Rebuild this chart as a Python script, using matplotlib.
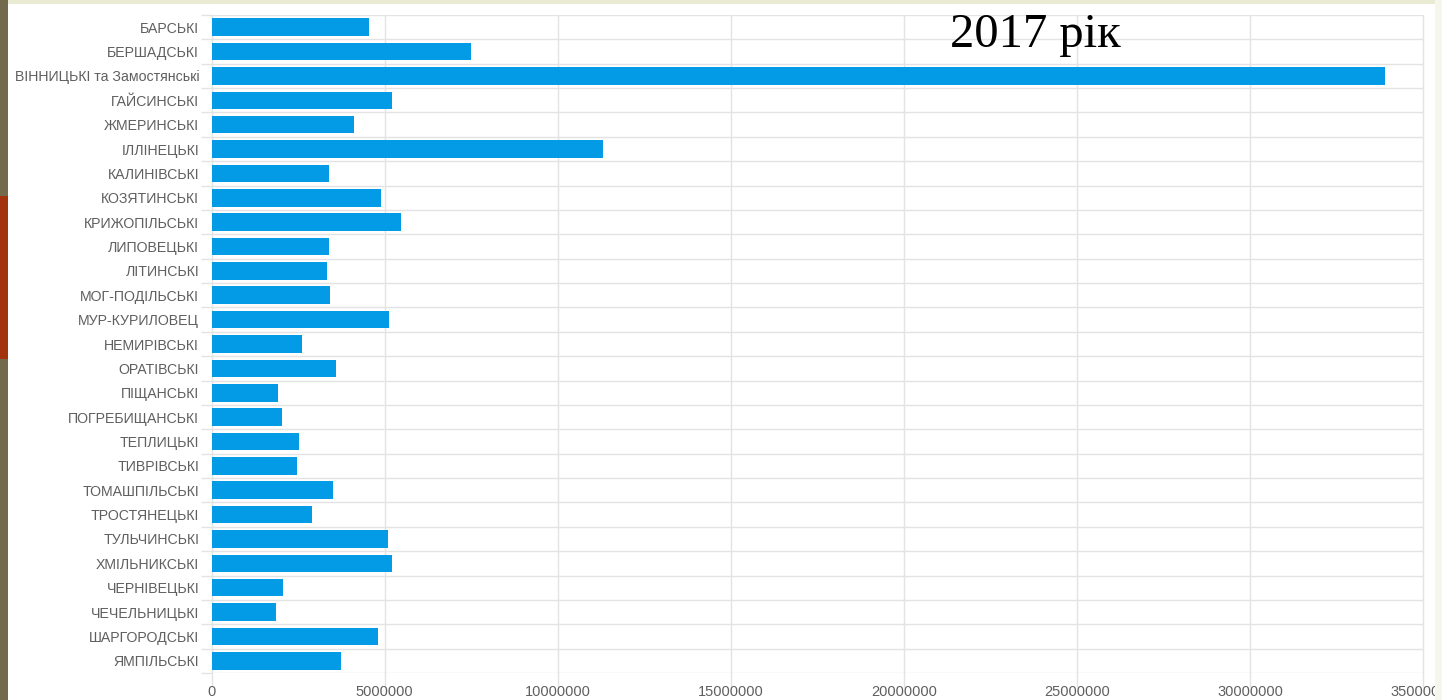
import matplotlib
matplotlib.use("Agg")
import matplotlib.pyplot as plt
from matplotlib.patches import Rectangle
from matplotlib.ticker import FixedLocator

# districts of Vinnytsia oblast, top to bottom
districts = [
    "БАРСЬКІ", "БЕРШАДСЬКІ", "ВІННИЦЬКІ та Замостянські", "ГАЙСИНСЬКІ",
    "ЖМЕРИНСЬКІ", "ІЛЛІНЕЦЬКІ", "КАЛИНІВСЬКІ", "КОЗЯТИНСЬКІ",
    "КРИЖОПІЛЬСЬКІ", "ЛИПОВЕЦЬКІ", "ЛІТИНСЬКІ", "МОГ-ПОДІЛЬСЬКІ",
    "МУР-КУРИЛОВЕЦ", "НЕМИРІВСЬКІ", "ОРАТІВСЬКІ", "ПІЩАНСЬКІ",
    "ПОГРЕБИЩАНСЬКІ", "ТЕПЛИЦЬКІ", "ТИВРІВСЬКІ", "ТОМАШПІЛЬСЬКІ",
    "ТРОСТЯНЕЦЬКІ", "ТУЛЬЧИНСЬКІ", "ХМІЛЬНИКСЬКІ", "ЧЕРНІВЕЦЬКІ",
    "ЧЕЧЕЛЬНИЦЬКІ", "ШАРГОРОДСЬКІ", "ЯМПІЛЬСЬКІ",
]
values_2017 = [
    4555000, 7500000, 33900000, 5210000,
    4110000, 11310000, 3390000, 4900000,
    5480000, 3390000, 3320000, 3430000,
    5130000, 2600000, 3600000, 1920000,
    2020000, 2530000, 2470000, 3500000,
    2910000, 5100000, 5210000, 2050000,
    1850000, 4800000, 3740000,
]
x_ticks = [0, 5000000, 10000000, 15000000, 20000000, 25000000, 30000000, 35000000]
title_text = "2017 рік"

W, H = 1442, 700
BAR_COLOR = "#039be5"
GRID_COLOR = "#e3e3e3"
LABEL_COLOR = "#5f5f5f"

fig = plt.figure(figsize=(W / 100, H / 100), dpi=100, facecolor="white")
ax = fig.add_axes([211.7 / W, 27 / H, (1423 - 211.7) / W, (673 - 15) / H])

n = len(districts)
ypos = list(range(n))
ax.barh(ypos, values_2017, height=0.72, color=BAR_COLOR, zorder=3)

ax.set_xlim(0, 35000000)
ax.set_ylim(n - 0.5, -0.5)

ax.set_yticks(ypos)
ax.set_yticklabels(districts)
ax.yaxis.set_minor_locator(FixedLocator([i - 0.5 for i in range(n + 1)]))
ax.set_xticks(x_ticks)
ax.set_xticklabels([str(t) for t in x_ticks])

for s in ax.spines.values():
    s.set_visible(False)

ax.tick_params(axis="y", which="major", length=0, pad=9,
               labelsize=10.2, labelcolor=LABEL_COLOR)
ax.tick_params(axis="y", which="minor", length=8, width=1, color=GRID_COLOR)
ax.tick_params(axis="x", which="major", length=10, width=1, color=GRID_COLOR,
               pad=-1.5, labelsize=10.5, labelcolor=LABEL_COLOR)
for lbl in ax.get_xticklabels() + ax.get_yticklabels():
    lbl.set_fontfamily("Liberation Sans")

ax.grid(axis="x", which="major", color=GRID_COLOR, linewidth=1, zorder=0)
ax.grid(axis="y", which="minor", color=GRID_COLOR, linewidth=1, zorder=0)
ax.set_axisbelow(True)
for gl in ax.get_xgridlines() + ax.yaxis.get_minorticklines():
    gl.set_clip_on(False)

fig.text(950 / W, 1 - 47 / H, title_text, fontsize=35, family="Liberation Serif",
         color="black", ha="left", va="baseline")

# slide frame around the white panel
frame = [
    ((0, 0), 8 / W, 1, "#736a4e"),
    ((0, 1 - 359 / H), 8 / W, 163 / H, "#a3330f"),
    ((8 / W, 1 - 4 / H), 1, 4 / H, "#e9ebd3"),
    ((1435 / W, 0), 7 / W, 1, "#f6f6ec"),
]
for xy, w, h, c in frame:
    fig.add_artist(Rectangle(xy, w, h, transform=fig.transFigure,
                             facecolor=c, edgecolor="none", zorder=5))

fig.savefig("out.png", dpi=100)
